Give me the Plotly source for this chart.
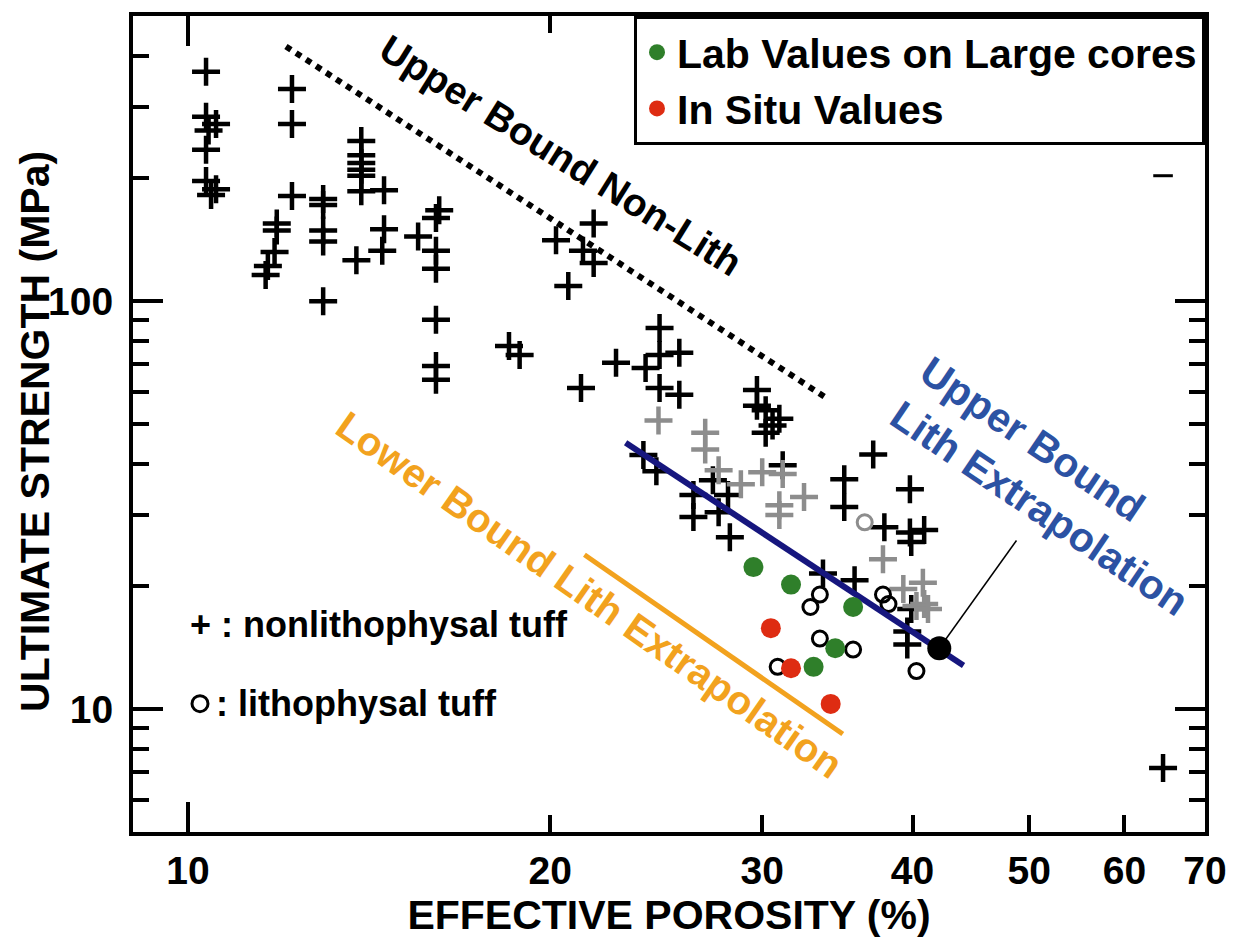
import math
import plotly.graph_objects as go

# ---------------- data ----------------
nonlith_x = [10.35, 10.35, 10.55, 10.4, 10.35, 10.35, 10.55, 10.45,
             12.2, 12.2, 12.2,
             11.85, 11.85, 11.8, 11.65, 11.6,
             12.95, 12.95, 12.95, 12.95, 12.95,
             13.93, 13.93, 13.93, 13.93, 13.93, 13.93, 13.8,
             14.55, 14.55, 14.5,
             16.17, 16.07, 15.53, 16.07, 16.07, 16.07, 16.07, 16.07,
             18.48, 18.86,
             21.73, 20.22, 21.29, 21.73, 20.70, 22.68, 21.21,
             24.65, 24.65, 25.6, 24.0, 24.65, 25.6,
             29.7, 29.7, 30.2, 31.0, 30.6, 30.2,
             23.9, 24.5, 26.3, 26.3, 27.3, 28.1, 27.6, 28.2, 31.2,
             35.1, 35.1, 37.1, 39.8, 37.9, 39.8, 40.9, 39.9,
             33.7, 35.8, 39.9, 39.6, 39.6,
             64.6]
nonlith_y = [365, 283, 272, 262, 235, 197, 188, 182,
             331, 272, 181,
             155, 149, 132, 122, 116,
             178, 172, 149, 140, 100,
             247, 228, 218, 210, 203, 186, 126,
             187, 150, 133,
             167, 160, 144, 133, 120, 90, 69.4, 64.2,
             77.7, 73.8,
             155, 141, 133, 124, 109, 70.6, 61.3,
             86, 73.8, 74.7, 68.6, 61.3, 59.0,
             60.6, 55.4, 54.0, 51.5, 49.6, 47.6,
             42.0, 38.3, 33.5, 29.6, 36.4, 33.5, 30.4, 26.4, 39.6,
             36.6, 31.3, 42.1, 34.6, 27.9, 27.1, 27.5, 25.7,
             21.5, 20.7, 17.6, 15.5, 14.4,
             7.18]

gray_x = [24.6, 26.9, 26.9, 27.6, 28.8, 30.0, 31.2, 32.5, 31.0, 31.0,
          37.8, 39.3, 40.8, 40.9, 40.3, 41.2]
gray_y = [51.0, 47.6, 43.3, 38.5, 35.6, 38.1, 37.7, 33.1, 31.6, 29.9,
          23.3, 19.7, 20.4, 18.1, 17.9, 17.6]

lith_x = [33.5, 32.9, 37.8, 38.2, 33.5, 35.7, 30.9, 40.3]
lith_y = [19.1, 17.8, 19.1, 18.1, 14.9, 14.0, 12.7, 12.4]
lith_gray_x = [36.5]
lith_gray_y = [28.7]

lab_x = [29.5, 31.7, 35.7, 34.5, 33.1]
lab_y = [22.3, 20.2, 17.8, 14.1, 12.7]
insitu_x = [30.5, 31.7, 34.2]
insitu_y = [15.8, 12.6, 10.3]

extrap_x = [42.1]
extrap_y = [14.1]

stray_x = [64.6]
stray_y = [203]

upper_nonlith_x = [12.06, 33.9]
upper_nonlith_y = [421, 58.0]
upper_lith_x = [23.1, 44.1]
upper_lith_y = [45.0, 12.8]
lower_lith_x = [21.35, 35.0]
lower_lith_y = [23.9, 8.69]
leader_x = [42.1, 48.8]
leader_y = [14.1, 25.9]

x_tick_vals = [10, 20, 30, 40, 50, 60, 70]
x_tick_text = ["10", "20", "30", "40", "50", "60", "70"]
y_tick_vals = [10, 100]
y_tick_text = ["10", "100"]
y_minor_vals = [6, 7, 8, 9, 20, 30, 40, 50, 60, 70, 80, 90, 200, 300, 400]
y_minor_right = [6, 7, 8, 9, 20, 30, 40, 50, 60, 70, 80, 90]

X_RANGE = [math.log10(9), math.log10(70)]
Y_RANGE = [math.log10(5), math.log10(500)]

FONT = "Liberation Sans, Arial, Helvetica, sans-serif"
GREEN = "#2f7f2a"
RED = "#de2c12"
ORANGE = "#f2a21e"
NAVY = "#16167e"
BLUE_TXT = "#2c52a3"
GRAY = "#8d8d8d"


def bold(size, color="black"):
    return dict(family=FONT, size=size, color=color, weight="bold")


fig = go.Figure()

fig.add_trace(go.Scatter(
    x=nonlith_x, y=nonlith_y, mode="markers", showlegend=False, hoverinfo="skip",
    marker=dict(symbol="cross-thin", size=20, line=dict(width=4.5, color="black"))))
fig.add_trace(go.Scatter(
    x=gray_x, y=gray_y, mode="markers", showlegend=False, hoverinfo="skip",
    marker=dict(symbol="cross-thin", size=20, line=dict(width=4.5, color=GRAY))))
fig.add_trace(go.Scatter(
    x=lith_x, y=lith_y, mode="markers", showlegend=False, hoverinfo="skip",
    marker=dict(symbol="circle-open", size=15, color="black", line=dict(width=3, color="black"))))
fig.add_trace(go.Scatter(
    x=lith_gray_x, y=lith_gray_y, mode="markers", showlegend=False, hoverinfo="skip",
    marker=dict(symbol="circle-open", size=15, color=GRAY, line=dict(width=3, color=GRAY))))

fig.add_trace(go.Scatter(
    x=upper_nonlith_x, y=upper_nonlith_y, mode="lines", showlegend=False, hoverinfo="skip",
    line=dict(color="black", width=6, dash="dot")))
fig.add_trace(go.Scatter(
    x=lower_lith_x, y=lower_lith_y, mode="lines", showlegend=False, hoverinfo="skip",
    line=dict(color=ORANGE, width=5)))
fig.add_trace(go.Scatter(
    x=upper_lith_x, y=upper_lith_y, mode="lines", showlegend=False, hoverinfo="skip",
    line=dict(color=NAVY, width=6)))
fig.add_trace(go.Scatter(
    x=leader_x, y=leader_y, mode="lines", showlegend=False, hoverinfo="skip",
    yaxis="y2", line=dict(color="black", width=1.5)))

fig.add_trace(go.Scatter(
    x=lab_x, y=lab_y, mode="markers", name="Lab Values on Large cores",
    marker=dict(symbol="circle", size=20, color=GREEN)))
fig.add_trace(go.Scatter(
    x=insitu_x, y=insitu_y, mode="markers", name="In Situ Values",
    marker=dict(symbol="circle", size=20, color=RED)))
fig.add_trace(go.Scatter(
    x=extrap_x, y=extrap_y, mode="markers", showlegend=False, hoverinfo="skip",
    marker=dict(symbol="circle", size=24, color="black")))
fig.add_trace(go.Scatter(
    x=stray_x, y=stray_y, mode="markers", showlegend=False, hoverinfo="skip",
    xaxis="x2", marker=dict(symbol="line-ew", size=14, line=dict(width=3, color="black"))))

axis_common = dict(type="log", showgrid=False, zeroline=False, ticks="inside",
                   tickcolor="black", tickwidth=3.5)

fig.update_layout(
    width=1248, height=943,
    margin=dict(l=133, r=43, t=12, b=111),
    paper_bgcolor="white", plot_bgcolor="white",
    font=bold(36),
    xaxis=dict(**axis_common, range=X_RANGE, tickvals=x_tick_vals, ticktext=x_tick_text,
               ticklen=17, showline=True, linewidth=4, linecolor="black", mirror="ticks",
               tickfont=bold(39), ticklabelstandoff=1,
               title=dict(text="EFFECTIVE POROSITY (%)", font=bold(41), standoff=8)),
    xaxis2=dict(**axis_common, range=X_RANGE, overlaying="x", anchor="y", side="bottom",
                tickvals=[10], ticklen=30, showticklabels=False, showline=True,
                linewidth=4, linecolor="black", mirror="ticks"),
    yaxis=dict(**axis_common, range=Y_RANGE, tickvals=y_tick_vals, ticktext=y_tick_text,
               ticklen=30, showline=True, linewidth=4, linecolor="black", mirror=True,
               tickfont=bold(39), ticklabelstandoff=8,
               minor=dict(tickvals=y_minor_vals, ticks="inside", ticklen=16, tickwidth=3.5,
                          tickcolor="black", showgrid=False)),
    yaxis2=dict(**axis_common, range=Y_RANGE, overlaying="y", anchor="x", side="right",
                tickvals=y_tick_vals, ticklen=30, showticklabels=False, showline=False,
                minor=dict(tickvals=y_minor_right, ticks="inside", ticklen=16, tickwidth=3.5,
                           tickcolor="black", showgrid=False)),
    legend=dict(x=1, y=1, xanchor="right", yanchor="top", bgcolor="white",
                bordercolor="black", borderwidth=3, font=bold(41),
                entrywidth=568, entrywidthmode="pixels"),
)

annotations = [
    dict(text="ULTIMATE STRENGTH (MPa)", x=(35 - 133) / 1072, y=(832 - 430) / 820,
         textangle=-90, font=bold(41)),
    dict(text="Upper Bound Non-Lith", x=0.3993, y=0.8293, textangle=32,
         font=bold(39)),
    dict(text="Upper Bound<br>Lith Extrapolation", x=0.8600, y=0.4232, textangle=34,
         align="left", font=bold(41, BLUE_TXT)),
    dict(text="Lower Bound Lith Extrapolation", x=0.4260, y=0.290, textangle=35,
         font=bold(40, ORANGE)),
    dict(text="+ : nonlithophysal tuff", x=(188 - 133) / 1072, y=(832 - 623) / 820,
         xanchor="left", yanchor="middle", font=bold(36)),
    dict(text=": lithophysal tuff", x=(214 - 133) / 1072, y=(832 - 703) / 820,
         xanchor="left", yanchor="middle", font=bold(36)),
]
for a in annotations:
    a.update(xref="paper", yref="paper", showarrow=False)
    a.setdefault("xanchor", "center")
    a.setdefault("yanchor", "middle")
fig.update_layout(annotations=annotations)

fig.add_shape(type="circle", xref="paper", yref="paper",
              xsizemode="pixel", ysizemode="pixel",
              xanchor=(200 - 133) / 1072, yanchor=(832 - 703) / 820,
              x0=-8, x1=8, y0=-8, y1=8, line=dict(color="black", width=3))

fig.write_html("out.html")
